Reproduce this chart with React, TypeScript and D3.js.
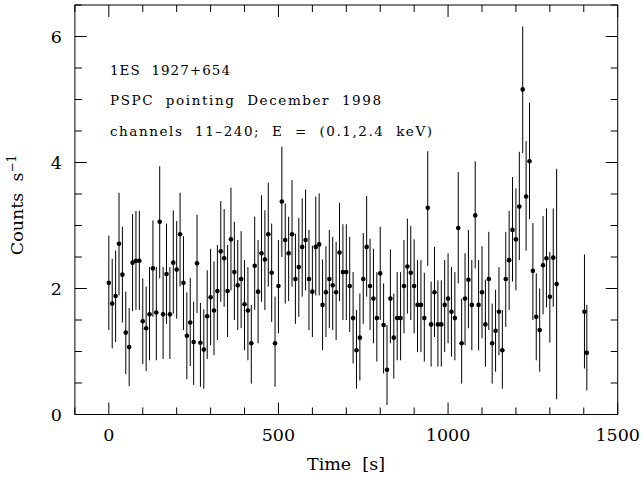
import React from "react";
import * as d3 from "d3";

const times = [
  0, 10, 20, 30, 40, 50, 60, 70, 80, 90, 100, 110, 120, 130, 140, 150, 160, 170, 180, 190,
  200, 210, 220, 230, 240, 250, 260, 270, 280, 290, 300, 310, 320, 330, 340, 350, 360, 370, 380, 390,
  400, 410, 420, 430, 440, 450, 460, 470, 480, 490, 500, 510, 520, 530, 540, 550, 560, 570, 580, 590,
  600, 610, 620, 630, 640, 650, 660, 670, 680, 690, 700, 710, 720, 730, 740, 750, 760, 770, 780, 790,
  800, 810, 820, 830, 840, 850, 860, 870, 880, 890, 900, 910, 920, 930, 940, 950, 960, 970, 980, 990,
  1000, 1010, 1020, 1030, 1040, 1050, 1060, 1070, 1080, 1090, 1100, 1110, 1120, 1130, 1140, 1150, 1160, 1170, 1180, 1190,
  1200, 1210, 1220, 1230, 1240, 1250, 1260, 1270, 1280, 1290, 1300, 1310, 1320, 1402, 1409,
];

const rates = [
  2.09, 1.76, 1.88, 2.71, 2.22, 1.30, 1.07, 2.41, 2.44, 2.44, 1.48, 1.37, 1.59, 2.32, 1.62, 3.06, 1.59, 2.23, 1.59, 2.41,
  2.30, 2.86, 2.09, 1.25, 1.46, 1.15, 2.40, 1.14, 1.03, 1.56, 1.86, 1.65, 1.96, 2.59, 2.48, 1.96, 2.78, 2.26, 2.05, 2.15,
  1.75, 1.65, 1.13, 2.36, 1.95, 2.56, 2.46, 2.86, 2.25, 1.13, 2.04, 3.38, 2.77, 2.56, 2.86, 2.15, 2.34, 2.66, 2.77, 2.15,
  1.95, 2.66, 2.70, 1.74, 1.94, 2.15, 2.05, 1.94, 2.57, 2.26, 2.26, 2.04, 1.53, 1.02, 1.22, 2.15, 2.66, 2.04, 1.84, 1.53,
  2.24, 1.42, 0.71, 1.84, 1.22, 1.53, 1.53, 2.04, 2.35, 2.25, 2.04, 1.74, 1.74, 1.53, 3.28, 1.43, 1.94, 1.43, 1.43, 1.74,
  1.84, 1.63, 1.53, 2.96, 1.13, 1.84, 2.14, 1.74, 3.16, 1.74, 1.94, 1.43, 2.15, 1.13, 1.33, 1.63, 1.02, 2.15, 2.45, 2.93,
  2.78, 3.30, 5.16, 3.46, 4.02, 2.28, 1.55, 1.34, 2.37, 2.48, 1.87, 2.49, 2.07, 1.63, 0.98,
];

const upper = [
  2.84, 2.47, 2.60, 3.52, 2.98, 1.95, 1.69, 3.18, 3.23, 3.23, 2.16, 2.03, 2.34, 3.08, 2.34, 3.94, 2.34, 3.03, 2.34, 3.24,
  3.07, 3.52, 2.83, 1.94, 2.17, 1.79, 3.17, 1.77, 1.67, 2.29, 2.63, 2.43, 2.69, 3.39, 3.26, 2.69, 3.60, 3.06, 2.77, 2.91,
  2.45, 2.34, 1.74, 3.14, 2.77, 3.48, 3.24, 3.68, 3.03, 1.87, 2.77, 4.25, 3.35, 3.14, 3.72, 2.87, 3.12, 3.43, 3.57, 2.93,
  2.68, 3.46, 3.51, 2.46, 2.67, 2.93, 2.82, 2.74, 3.36, 3.02, 3.02, 2.82, 2.26, 1.66, 1.92, 2.88, 3.47, 2.79, 2.63, 2.26,
  2.98, 2.08, 1.42, 2.62, 1.92, 2.26, 2.26, 2.77, 3.11, 2.99, 2.78, 2.45, 2.45, 2.25, 4.18, 2.11, 2.66, 2.13, 2.13, 2.45,
  2.56, 2.34, 2.26, 3.85, 1.84, 2.56, 2.93, 2.45, 4.02, 2.45, 2.67, 2.14, 2.90, 1.76, 1.98, 2.34, 1.66, 2.90, 3.23, 3.77,
  3.59, 4.17, 6.16, 4.34, 4.95, 3.04, 2.24, 2.00, 3.15, 3.27, 2.58, 3.27, 3.90, 2.54, 1.74,
];

const lower = [
  1.34, 1.05, 1.15, 1.89, 1.46, 0.64, 0.45, 1.64, 1.66, 1.66, 0.80, 0.69, 0.86, 1.55, 0.86, 2.16, 0.88, 1.44, 0.88, 1.60,
  1.52, 2.03, 1.34, 0.56, 0.77, 0.47, 1.61, 0.44, 0.41, 0.88, 1.10, 0.94, 1.18, 1.79, 1.71, 1.23, 1.97, 1.50, 1.34, 1.37,
  1.02, 0.86, 0.49, 1.66, 1.13, 1.79, 1.66, 2.03, 1.47, 0.44, 1.29, 2.50, 1.76, 1.80, 2.03, 1.44, 1.55, 1.87, 1.97, 1.34,
  1.23, 1.89, 1.89, 1.02, 1.23, 1.37, 1.34, 1.18, 1.80, 1.50, 1.50, 1.31, 0.81, 0.41, 0.54, 1.44, 1.87, 1.34, 1.13, 0.84,
  1.50, 0.65, 0.15, 1.13, 0.57, 0.86, 0.86, 1.29, 1.60, 1.50, 1.29, 0.99, 0.99, 0.84, 2.36, 0.76, 1.23, 0.76, 0.76, 0.99,
  1.13, 0.92, 0.86, 2.08, 0.49, 1.10, 1.37, 1.02, 2.32, 1.02, 1.21, 0.76, 1.34, 0.49, 0.68, 0.94, 0.41, 1.39, 1.66, 2.11,
  1.97, 2.45, 4.15, 2.60, 3.10, 1.50, 0.86, 0.68, 1.59, 1.70, 1.14, 1.71, 0.24, 0.73, 0.38,
];

const xMajorTicks = [0, 500, 1000, 1500];
const xMinorTicks = [-100, 100, 200, 300, 400, 600, 700, 800, 900, 1100, 1200, 1300, 1400];
const yMajorTicks = [0, 2, 4, 6];
const yMinorTicks = [0.5, 1, 1.5, 2.5, 3, 3.5, 4.5, 5, 5.5, 6.5];

const annotations = [
  "1ES  1927+654",
  "PSPC  pointing  December  1998",
  "channels  11\u2013240;  E  =  (0.1,2.4  keV)",
];

const W = 642;
const H = 479;
const FONT = "'DejaVu Serif', serif";

export default function App() {
  const x = d3.scaleLinear().domain([-100, 1500]).range([74.9, 617.7]);
  const y = d3.scaleLinear().domain([0, 6.5]).range([414.5, 5]);
  const [x0, x1] = x.range();
  const [y0, y1] = y.range();
  const MAJ = 12;
  const MIN = 7;

  const annotLayout = [
    { yb: 75, len: 120 },
    { yb: 105, len: 271 },
    { yb: 136, len: 322 },
  ];

  return (
    <svg
      width={W}
      height={H}
      style={{ position: "absolute", left: 0, top: 0, background: "#fff" }}
      fontFamily={FONT}
    >
      <rect x={0} y={0} width={W} height={H} fill="#fff" />
      <rect x={x0} y={y1} width={x1 - x0} height={y0 - y1} fill="none" stroke="#000" strokeWidth={1} />
      {xMajorTicks.map((t) => (
        <g key={"xM" + t}>
          <line x1={x(t)} x2={x(t)} y1={y0} y2={y0 - MAJ} stroke="#000" />
          <line x1={x(t)} x2={x(t)} y1={y1} y2={y1 + MAJ} stroke="#000" />
          <text x={x(t)} y={441} textAnchor="middle" fontSize={17.5}>
            {t}
          </text>
        </g>
      ))}
      {xMinorTicks.map((t) => (
        <g key={"xm" + t}>
          <line x1={x(t)} x2={x(t)} y1={y0} y2={y0 - MIN} stroke="#000" />
          <line x1={x(t)} x2={x(t)} y1={y1} y2={y1 + MIN} stroke="#000" />
        </g>
      ))}
      {yMajorTicks.map((t) => (
        <g key={"yM" + t}>
          <line x1={x0} x2={x0 + MAJ} y1={y(t)} y2={y(t)} stroke="#000" />
          <line x1={x1} x2={x1 - MAJ} y1={y(t)} y2={y(t)} stroke="#000" />
          <text x={62} y={y(t) + 6.5} textAnchor="end" fontSize={17.5}>
            {t}
          </text>
        </g>
      ))}
      {yMinorTicks.map((t) => (
        <g key={"ym" + t}>
          <line x1={x0} x2={x0 + MIN} y1={y(t)} y2={y(t)} stroke="#000" />
          <line x1={x1} x2={x1 - MIN} y1={y(t)} y2={y(t)} stroke="#000" />
        </g>
      ))}
      <text x={346} y={470} textAnchor="middle" fontSize={17.5} style={{ whiteSpace: "pre" }}>
        {"Time  [s]"}
      </text>
      <text
        transform={`translate(23,205) rotate(-90)`}
        textAnchor="middle"
        fontSize={17.5}
        style={{ whiteSpace: "pre" }}
      >
        {"Counts  s"}
        <tspan dy={-7} fontSize={12}>
          −1
        </tspan>
      </text>
      {annotations.map((a, i) => (
        <text
          key={a}
          x={110}
          y={annotLayout[i].yb}
          fontSize={13.5}
          textLength={annotLayout[i].len}
          lengthAdjust="spacing"
          style={{ whiteSpace: "pre" }}
        >
          {a}
        </text>
      ))}
      {times.map((t, i) => (
        <g key={"p" + i}>
          <line x1={x(t)} x2={x(t)} y1={y(upper[i])} y2={y(lower[i])} stroke="#000" strokeWidth={1} />
          <circle cx={x(t)} cy={y(rates[i])} r={2.3} fill="#000" />
        </g>
      ))}
    </svg>
  );
}
